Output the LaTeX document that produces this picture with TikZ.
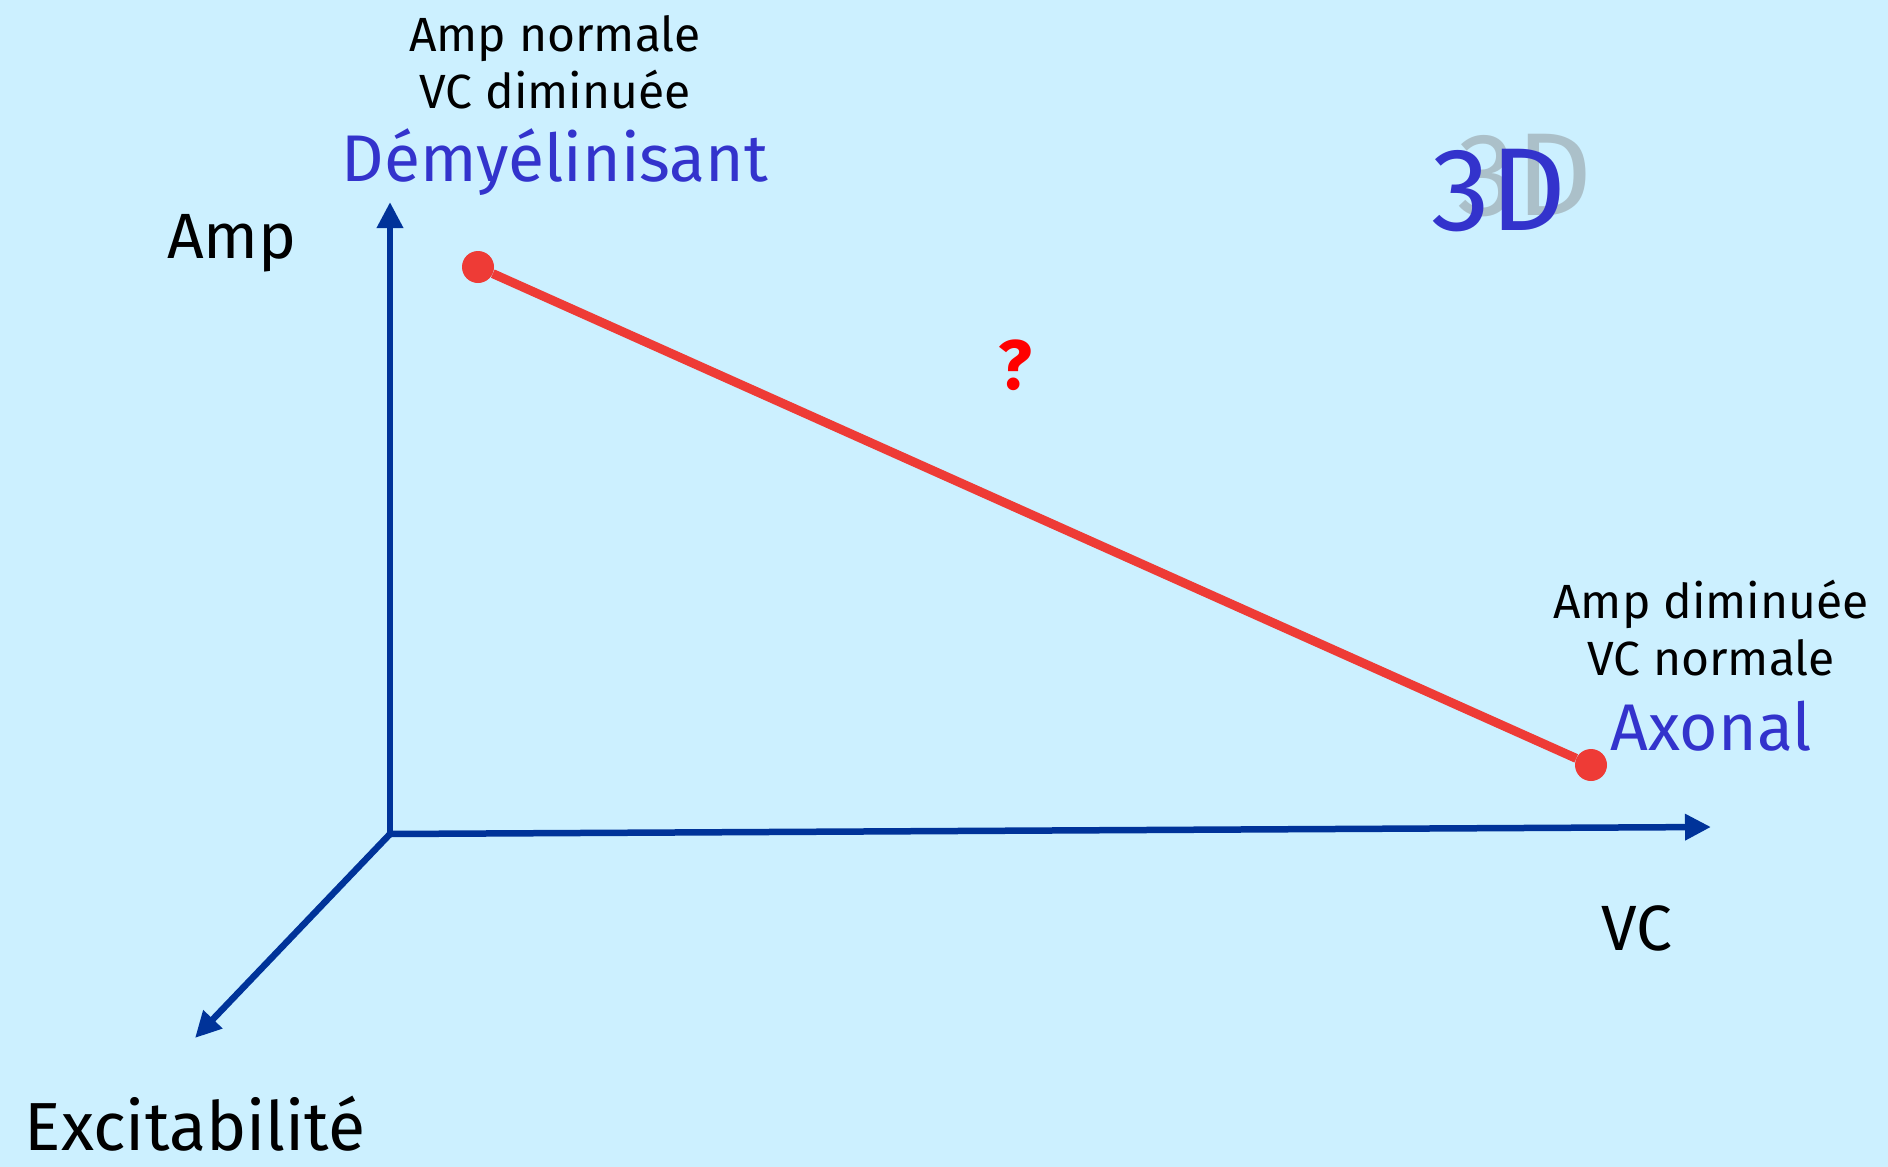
\documentclass[tikz,border=0pt]{standalone}
\usepackage{fontspec}
\setmainfont{Fira Sans}
\usepackage{xcolor}
\usetikzlibrary{arrows.meta}

\definecolor{bgblue}{HTML}{CCF0FF}
\definecolor{axisblue}{HTML}{003399}
\definecolor{labelblue}{HTML}{3333CC}
\definecolor{linered}{HTML}{EE3B36}

\tikzset{
  axis/.style={draw=axisblue, line width=6.5pt, -{Triangle[length=26pt,width=25pt]}},
  note/.style={align=center, font=\fontsize{48}{57}\selectfont},
  kind/.style={text=labelblue, font=\fontsize{66}{70}\selectfont},
  axislabel/.style={font=\fontsize{64}{70}\selectfont},
  dot/.style={circle, fill=linered, minimum size=32pt, inner sep=0pt}
}

\begin{document}
\begin{tikzpicture}[x=1pt, y=-1pt]
  % background and picture size
  \fill[bgblue] (0,0) rectangle (1888,1167);
  \useasboundingbox (0,0) rectangle (1888,1167);

  % axes
  \coordinate (o) at (390,834);
  \coordinate (amptip) at (390,202);
  \coordinate (vctip) at (1711,827);
  \coordinate (exctip) at (195,1038);

  \draw[axis] (o) -- (amptip);
  \draw[axis] (o) -- (vctip);
  \draw[axis] (o) -- (exctip);

  \node[axislabel] (amp) at (232,243) {Amp};
  \node[axislabel] (vc) at (1637,928) {VC};
  \node[axislabel, inner sep=0pt, font=\fontsize{68}{70}\selectfont] (exc) at (195,1124) {Excitabilité};

  % the two end points
  \node[dot] (dem) at (478,267) {};
  \node[dot] (axo) at (1591,765) {};
  \draw[linered, line width=9pt] (dem) -- (axo);

  \node[note] (demnote) at (555,62) {Amp normale\\VC diminuée};
  \node[kind] (demname) at (555,162) {Démyélinisant};

  \node[note] (axonote) at (1711,628) {Amp diminuée\\VC normale};
  \node[kind] (axoname) at (1711,726) {Axonal};

  \node[text=red, font=\bfseries\fontsize{70}{80}\selectfont] (q) at (1015,365) {?};

  % 3D with its shadow
  \node[text=gray!70!bgblue, opacity=0.6, font=\fontsize{118}{120}\selectfont] (shadow) at (1525,176) {3D};
  \node[text=labelblue, font=\fontsize{118}{120}\selectfont] (threed) at (1499,191) {3D};
\end{tikzpicture}
\end{document}
